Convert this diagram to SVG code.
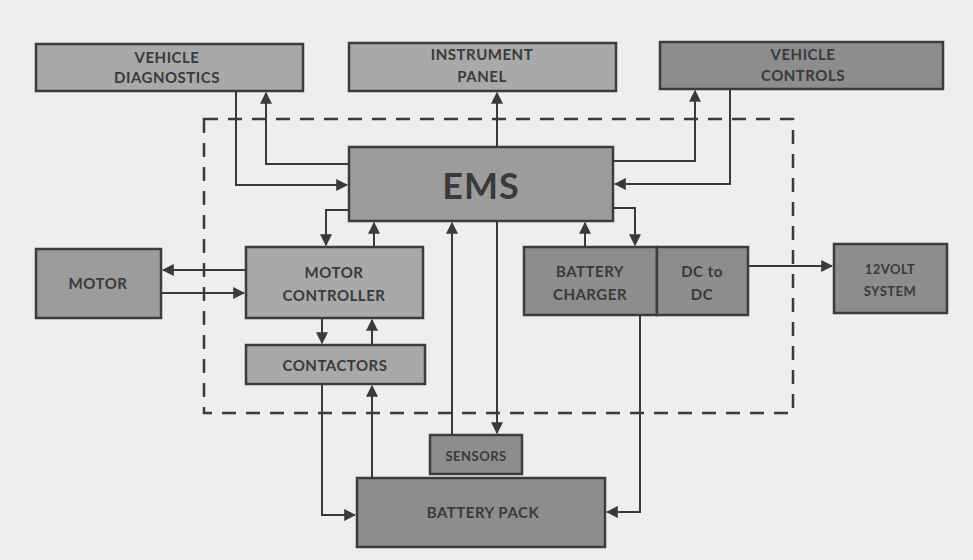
<svg xmlns="http://www.w3.org/2000/svg" width="973" height="560" viewBox="0 0 973 560">
<defs>
<marker id="ah" viewBox="0 0 10 10" refX="9" refY="5" markerWidth="6" markerHeight="6" orient="auto" markerUnits="strokeWidth">
<path d="M0,0 L10,5 L0,10 z" fill="#3a3a3a"/>
</marker>
</defs>
<style>
.bx{stroke:#3c3c3c;stroke-width:2.5}
.lt{fill:#a9a9a9}
.md{fill:#9c9c9c}
.dk{fill:#8d8d8d}
.t{font-family:"Lato","Open Sans",sans-serif;font-weight:bold;fill:#3a3a3a;text-anchor:middle;font-size:15px;letter-spacing:0.5px}
.c{fill:none;stroke:#3a3a3a;stroke-width:2}
.a{marker-end:url(#ah)}
</style>
<rect width="973" height="560" fill="#eeeeee"/>
<rect x="204" y="119" width="589" height="294" fill="none" stroke="#3a3a3a" stroke-width="2.5" stroke-dasharray="14,10"/>
<g id="diag"><rect class="bx lt" x="36" y="44" width="267" height="47"/><text class="t" x="167" y="63">VEHICLE</text><text class="t" x="167" y="83">DIAGNOSTICS</text></g>
<g id="panel"><rect class="bx lt" x="349" y="43" width="267" height="48"/><text class="t" x="482" y="60">INSTRUMENT</text><text class="t" x="482" y="82">PANEL</text></g>
<g id="controls"><rect class="bx dk" x="660" y="42" width="283" height="47"/><text class="t" x="803" y="60">VEHICLE</text><text class="t" x="803" y="81">CONTROLS</text></g>
<g id="ems"><rect class="bx md" x="349" y="147" width="264" height="74"/><text class="t" x="481" y="199" style="font-size:36px;letter-spacing:1px">EMS</text></g>
<g id="motor"><rect class="bx md" x="36" y="249" width="125" height="69"/><text class="t" x="98" y="289">MOTOR</text></g>
<g id="mc"><rect class="bx lt" x="246" y="247" width="177" height="71"/><text class="t" x="334" y="278">MOTOR</text><text class="t" x="334" y="301">CONTROLLER</text></g>
<g id="contactors"><rect class="bx lt" x="246" y="345" width="179" height="39"/><text class="t" x="335" y="371">CONTACTORS</text></g>
<g id="charger"><rect class="bx dk" x="524" y="247" width="133" height="68"/><text class="t" x="590" y="277">BATTERY</text><text class="t" x="590" y="300">CHARGER</text></g>
<g id="dcdc"><rect class="bx dk" x="657" y="247" width="91" height="68"/><text class="t" x="702" y="277">DC to</text><text class="t" x="702" y="300">DC</text></g>
<g id="v12"><rect class="bx dk" x="834" y="244" width="113" height="69"/><text class="t" x="890" y="274" style="font-size:13px">12VOLT</text><text class="t" x="890" y="296" style="font-size:13px">SYSTEM</text></g>
<g id="sensors"><rect class="bx dk" x="430" y="435" width="92" height="39"/><text class="t" x="476" y="461" style="font-size:13px">SENSORS</text></g>
<g id="pack"><rect class="bx dk" x="357" y="478" width="248" height="69"/><text class="t" x="483" y="518">BATTERY PACK</text></g>
<g id="connectors">
<path class="c a" d="M236,91 V185 H347"/>
<path class="c a" d="M349,164 H266 V93"/>
<path class="c a" d="M497,147 V93"/>
<path class="c a" d="M613,161 H695 V91"/>
<path class="c a" d="M730,89 V184 H615"/>
<path class="c a" d="M349,210 H326 V245"/>
<path class="c a" d="M374,247 V223"/>
<path class="c a" d="M246,270 H163"/>
<path class="c a" d="M161,293 H244"/>
<path class="c a" d="M322,318 V343"/>
<path class="c a" d="M372,345 V320"/>
<path class="c a" d="M322,384 V515 H355"/>
<path class="c a" d="M372,478 V386"/>
<path class="c a" d="M452,435 V223"/>
<path class="c a" d="M497,221 V433"/>
<path class="c a" d="M585,247 V223"/>
<path class="c a" d="M613,208 H635 V245"/>
<path class="c a" d="M640,315 V512 H607"/>
<path class="c a" d="M748,266 H832"/>
</g>
</svg>
